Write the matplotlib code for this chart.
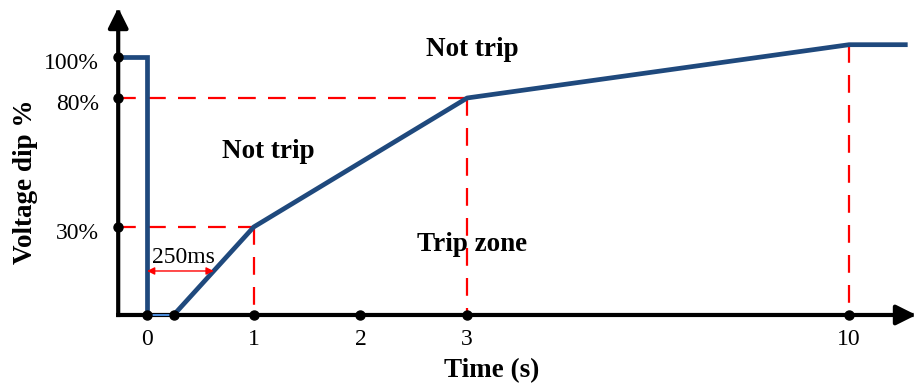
import numpy as np
import matplotlib
matplotlib.use("Agg")
import matplotlib.pyplot as plt

plt.rcParams['font.family'] = ['Liberation Serif', 'DejaVu Serif']

#%% data (time in s, voltage in %)
t_axis = -0.27          # where the voltage axis sits (pre-fault time)
t_end = 11.03           # end of the curve
t_arrow = 11.23         # tip of the time axis
v_arrow = 124           # tip of the voltage axis

# curve: pre-fault level, drop, then recovery ramp
curve_t_pre = [t_axis, 0, 0]
curve_v_pre = [100, 100, 0]
curve_t_dip = [0, 0.25]
curve_v_dip = [0, 0]
curve_t_rec = [0.25, 1, 3, 10, t_end]
curve_v_rec = [0, 30, 80, 106, 106]

# reference points on the axes
x_ticks = [0, 1, 2, 3, 10]
x_tick_labels = ["0", "1", "2", "3", "10"]
x_dots = [0, 0.25, 1, 2, 3, 10]
y_ticks = [100, 80, 30]
y_tick_labels = ["100%", "80%", "30%"]

# dashed guide lines: (t, v) corner points
guides = [(3, 80), (1, 30)]
guide_t10 = (10, 106)

# 250 ms marker level
ms_level = 15
ms_right = 0.25 + 0.75 * ms_level / 30

#%% schematic (non-uniform) scales
T_SPLIT, T_SQUEEZE = 3, 0.5113
def x_fwd(t):
    t = np.asarray(t, float)
    return np.where(t <= T_SPLIT, t, T_SPLIT + (t - T_SPLIT) * T_SQUEEZE)
def x_inv(p):
    p = np.asarray(p, float)
    return np.where(p <= T_SPLIT, p, T_SPLIT + (p - T_SPLIT) / T_SQUEEZE)

V_ANCH = [0, 30, 80, 100]
P_ANCH = [0, 88, 217, 258]
def y_fwd(v):
    v = np.asarray(v, float)
    return np.where(v < 0, v * 88 / 30,
                    np.where(v > 100, 258 + (v - 100) * 41 / 20, np.interp(v, V_ANCH, P_ANCH)))
def y_inv(p):
    p = np.asarray(p, float)
    return np.where(p < 0, p * 30 / 88,
                    np.where(p > 258, 100 + (p - 258) * 20 / 41, np.interp(p, P_ANCH, V_ANCH)))

#%% plotting
fig = plt.figure(figsize=(9.19, 3.87), dpi=100)
ax = fig.add_axes([0, 0, 1, 1])
ax.set_xscale('function', functions=(x_fwd, x_inv))
ax.set_yscale('function', functions=(y_fwd, y_inv))
ax.set_xlim(-1.3777, 11.281)
ax.set_ylim(-24.55, 127.8)
ax.axis('off')

red = '#FF0000'
blue = '#1F497D'

#____guides
for gt, gv in guides:
    ax.plot([t_axis, gt], [gv, gv], color=red, lw=1.6, dashes=(8, 5.5), zorder=2)
    ax.plot([gt, gt], [gv, 0], color=red, lw=1.6, dashes=(8, 5.5), zorder=2)
ax.plot([guide_t10[0], guide_t10[0]], [guide_t10[1], 0], color=red, lw=1.6,
        dashes=(8, 5.5), zorder=2)

#____axes with arrows
arr = dict(arrowstyle='-|>,head_length=0.6,head_width=0.3', lw=3, color='k',
           mutation_scale=20, shrinkA=0, shrinkB=0, capstyle='projecting')
ax.annotate('', xy=(t_arrow, 0), xytext=(t_axis, 0), arrowprops=arr, zorder=3)
ax.annotate('', xy=(t_axis, v_arrow), xytext=(t_axis, 0), arrowprops=arr, zorder=3)

#____curve
ax.plot(curve_t_pre, curve_v_pre, color=blue, lw=3.4, zorder=4, solid_joinstyle='miter')
ax.plot(curve_t_rec, curve_v_rec, color=blue, lw=3.4, zorder=4)
ax.plot(curve_t_dip, curve_v_dip, color='#4A8AD8', lw=1.5, zorder=5)

#____dots
ax.plot(x_dots, np.zeros(len(x_dots)), 'o', color='k', ms=6.5, zorder=6)
ax.plot([t_axis] * len(y_ticks), y_ticks, 'o', color='k', ms=6.5, zorder=6)

#____tick labels
for xt, lab in zip(x_ticks, x_tick_labels):
    ax.annotate(lab, xy=(xt, 0), xytext=(0, -30), textcoords='offset pixels',
                ha='center', va='baseline', fontsize=17)
for yt, lab in zip(y_ticks, y_tick_labels):
    ax.annotate(lab, xy=(t_axis, yt), xytext=(-19, -12), textcoords='offset pixels',
                ha='right', va='baseline', fontsize=17)

#____250ms marker
ax.annotate('', xy=(ms_right, ms_level), xytext=(0, ms_level),
            arrowprops=dict(arrowstyle='<|-|>', lw=1, color=red, mutation_scale=11,
                            shrinkA=0, shrinkB=0), zorder=5)
ax.text(0.05, 17.7, "250ms", ha='left', va='baseline', fontsize=17, zorder=7)

#____zones
ax.text(3.09, 100.5, "Not trip", ha='center', va='baseline', fontsize=19.5, fontweight='bold')
ax.text(1.14, 56.7, "Not trip", ha='center', va='baseline', fontsize=19.5, fontweight='bold')
ax.text(3.09, 21.8, "Trip zone", ha='center', va='baseline', fontsize=19.5, fontweight='bold',
        zorder=7)

#____axis titles
fig.text(0.535, 0.026, "Time (s)", ha='center', va='baseline', fontsize=19.5, fontweight='bold')
fig.text(0.028, 0.53, "Voltage dip %", ha='center', va='center', rotation=90,
         fontsize=19.5, fontweight='bold')

fig.savefig("out.png", dpi=100)
